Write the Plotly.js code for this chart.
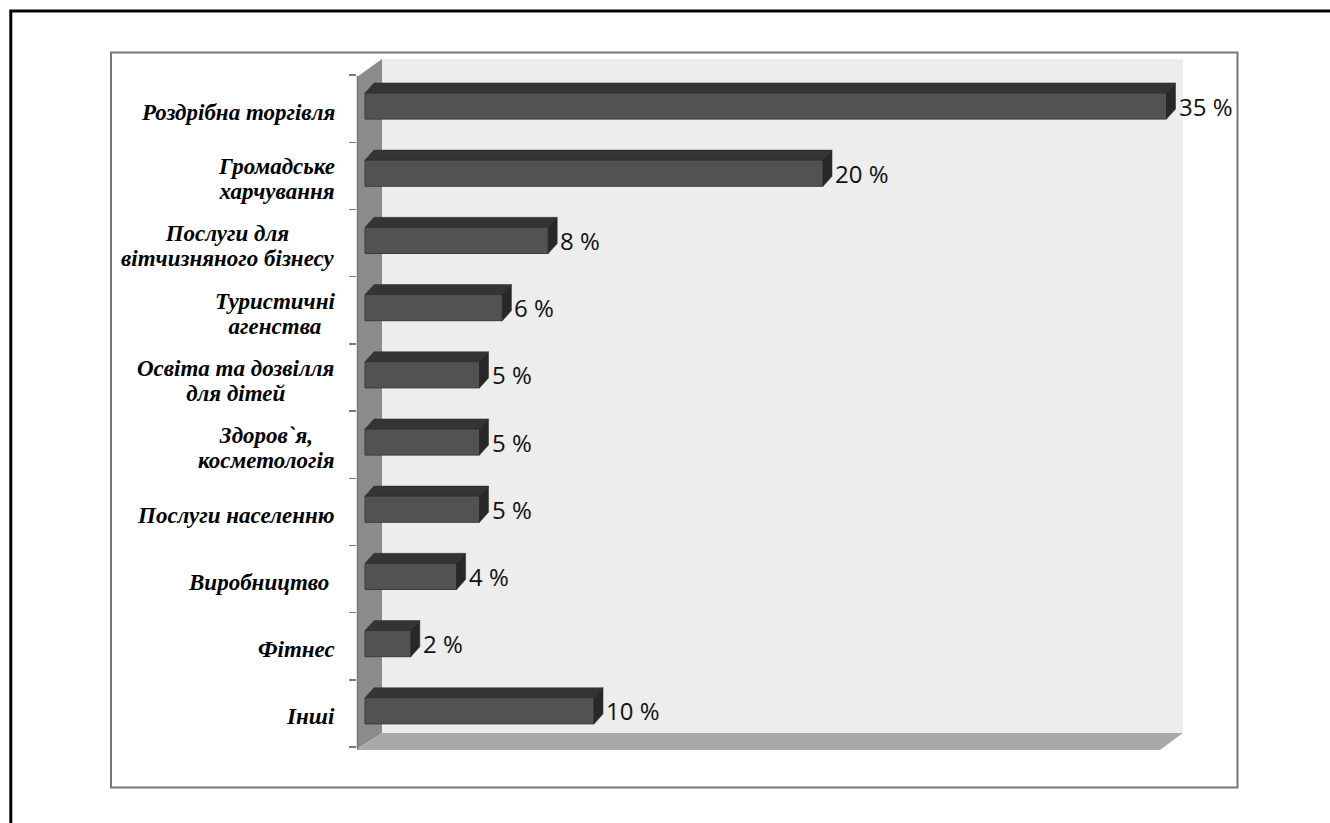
<!DOCTYPE html>
<html>
<head>
<meta charset="utf-8">
<script src="https://cdn.plot.ly/plotly-3.0.1.min.js"></script>
<style>
  html, body { margin: 0; padding: 0; background: #ffffff; }
  #chart { width: 1330px; height: 823px; }
</style>
</head>
<body>
<div id="chart"></div>
<script>
// ---- data ----
const categories = [
  "Роздрібна торгівля",
  "Громадське харчування",
  "Послуги для вітчизняного бізнесу",
  "Туристичні агенства",
  "Освіта та дозвілля для дітей",
  "Здоров`я, косметологія",
  "Послуги населенню",
  "Виробництво ",
  "Фітнес",
  "Інші"
];
const labelLines = [
  ["Роздрібна торгівля"],
  ["Громадське", "харчування"],
  ["Послуги для", "вітчизняного бізнесу"],
  ["Туристичні", "агенства"],
  ["Освіта та дозвілля", "для дітей"],
  ["Здоров`я,", "косметологія"],
  ["Послуги населенню"],
  ["Виробництво\u00a0"],
  ["Фітнес"],
  ["Інші"]
];
const values = [35, 20, 8, 6, 5, 5, 5, 4, 2, 10];
const valueSuffix = " %";

// ---- layout geometry (pixels) ----
const W = 1330, H = 823;
const L = 357, R = 1183, T = 59, B = 750;
const pw = R - L, ph = B - T;
const px = x => (x - L) / pw;          // pixel -> paper x
const py = y => 1 - (y - T) / ph;      // pixel -> paper y

const pxPerUnit = 22.9;                // px per percent
const pxPerCat = 67.2;                 // px per category
const zeroPx = 365, firstCatPx = 106;
const xRange = [(L - zeroPx) / pxPerUnit, (R - zeroPx) / pxPerUnit];
const yRange = [(B - firstCatPx) / pxPerCat, (T - firstCatPx) / pxPerCat];

const idx = categories.map((c, i) => i);
const barW = 0.39;
const dx = 9 / pxPerUnit;
const dy = 10 / pxPerCat;

// 3D top faces and side faces
const topX = [], topY = [], sideX = [], sideY = [];
idx.forEach(i => {
  const v = values[i];
  const yt = i - barW / 2, yb = i + barW / 2;
  topX.push(0, dx, v + dx, v, 0, null);
  topY.push(yt, yt - dy, yt - dy, yt, yt, null);
  sideX.push(v, v + dx, v + dx, v, v, null);
  sideY.push(yt, yt - dy, yb - dy, yb, yt, null);
});

const traces = [
  {
    type: 'bar', orientation: 'h',
    x: values, y: idx, width: barW, base: 0,
    marker: { color: '#525252', line: { color: '#3c3c3c', width: 1 } },
    hoverinfo: 'skip', showlegend: false
  },
  {
    type: 'scatter', mode: 'lines', x: topX, y: topY,
    fill: 'toself', fillcolor: '#343434',
    line: { color: '#2e2e2e', width: 0.5 },
    hoverinfo: 'skip', showlegend: false
  },
  {
    type: 'scatter', mode: 'lines', x: sideX, y: sideY,
    fill: 'toself', fillcolor: '#282828',
    line: { color: '#222222', width: 0.5 },
    hoverinfo: 'skip', showlegend: false
  }
];

// tick positions at category boundaries
const tickPos = idx.map(i => i - 0.46).concat([categories.length - 0.46]);

const annotations = [];
idx.forEach(i => {
  annotations.push({
    xref: 'paper', yref: 'y', x: px(337), y: i,
    xanchor: 'right', yanchor: 'middle', align: 'center', yshift: -6,
    text: labelLines[i].map(s => '<span style="font-size:23px">' + s + '</span>').join('<br>'),
    showarrow: false,
    font: { family: 'Liberation Serif, Times New Roman, serif', size: 19.5, color: '#000', weight: 'bold', style: 'italic' }
  });
  annotations.push({
    xref: 'x', yref: 'y', x: values[i] + dx, y: i,
    xanchor: 'left', yanchor: 'middle', xshift: 1,
    text: values[i] + valueSuffix, showarrow: false,
    font: { family: 'Open Sans, sans-serif', size: 24, color: '#111' }
  });
});

const shapes = [
  // back wall
  { type: 'rect', xref: 'paper', yref: 'paper', x0: px(382), x1: px(1183), y0: py(733), y1: py(59),
    fillcolor: '#ededed', line: { width: 0 }, layer: 'below' },
  // left wall
  { type: 'path', xref: 'paper', yref: 'paper', layer: 'below',
    path: `M ${px(357)} ${py(77)} L ${px(382)} ${py(59)} L ${px(382)} ${py(733)} L ${px(357)} ${py(749)} Z`,
    fillcolor: '#8b8b8b', line: { width: 0 } },
  // floor
  { type: 'path', xref: 'paper', yref: 'paper', layer: 'below',
    path: `M ${px(357)} ${py(749)} L ${px(382)} ${py(733)} L ${px(1183)} ${py(733)} L ${px(1160)} ${py(750)} L ${px(357)} ${py(750)} Z`,
    fillcolor: '#a9a9a9', line: { width: 0 } },
  // axis line
  { type: 'line', xref: 'paper', yref: 'paper', x0: px(357.5), x1: px(357.5), y0: py(76), y1: py(749),
    line: { color: '#7a7a7a', width: 1.5 } },
  // inner chart border
  { type: 'rect', xref: 'paper', yref: 'paper', x0: px(111), x1: px(1237.5), y0: py(787.5), y1: py(52.5),
    line: { color: '#777777', width: 2 }, fillcolor: 'rgba(0,0,0,0)' },
  // outer page border
  { type: 'rect', xref: 'paper', yref: 'paper', x0: px(10.8), x1: px(1400), y0: py(900), y1: py(11),
    line: { color: '#000000', width: 3 }, fillcolor: 'rgba(0,0,0,0)' }
];

const layout = {
  width: W, height: H,
  margin: { l: L, r: W - R, t: T, b: H - B, pad: 0 },
  paper_bgcolor: '#ffffff',
  plot_bgcolor: 'rgba(0,0,0,0)',
  showlegend: false,
  xaxis: { range: xRange, showgrid: false, zeroline: false, showticklabels: false, ticks: '', showline: false, fixedrange: true },
  yaxis: { range: yRange, showgrid: false, zeroline: false, showticklabels: false,
           tickmode: 'array', tickvals: tickPos, ticks: 'outside', ticklen: 7, tickwidth: 1.5, tickcolor: '#7a7a7a',
           showline: false, fixedrange: true },
  shapes: shapes,
  annotations: annotations,
  bargap: 0
};

Plotly.newPlot('chart', traces, layout, { displayModeBar: false, staticPlot: true });
</script>
</body>
</html>
